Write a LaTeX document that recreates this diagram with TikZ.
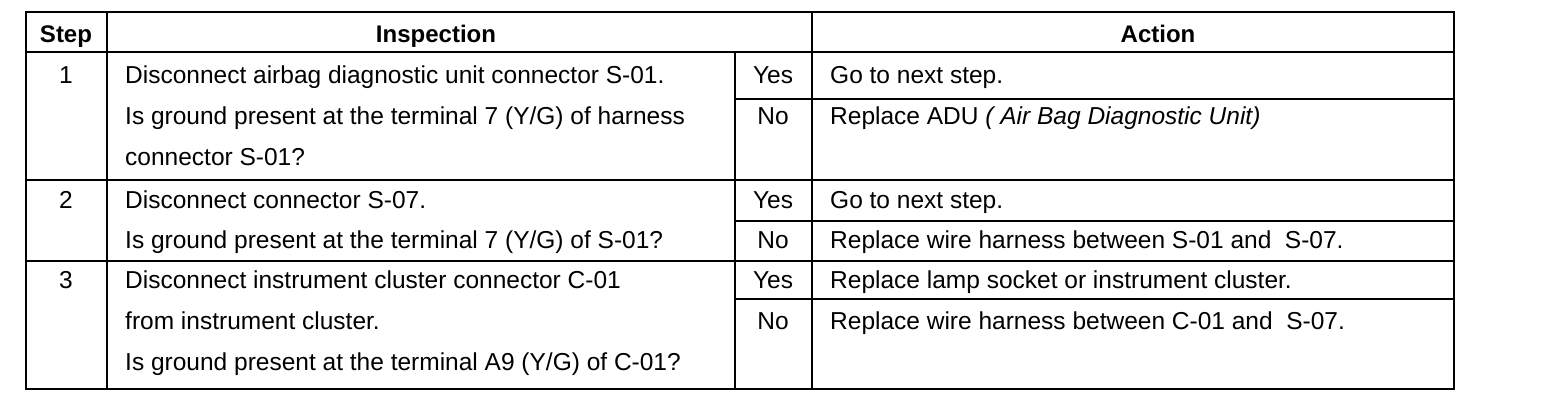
\documentclass[tikz,border=0pt]{standalone}
\usepackage{fontspec}
\setmainfont{Liberation Sans}
\begin{document}
\begin{tikzpicture}[x=1pt,y=-1pt,
  txt/.style={inner sep=0pt,font=\fontsize{24.5}{28}\selectfont},
  lt/.style={txt,anchor=base west},
  ct/.style={txt,anchor=base},
  hd/.style={txt,anchor=base,font=\fontsize{24}{28}\selectfont\bfseries},
  grid/.style={line width=1.5pt,black},
  frame/.style={line width=2pt,black}]
\useasboundingbox (0,0) rectangle (1568,406);
\fill[white] (0,0) rectangle (1568,406);
% grid lines
\coordinate (TL) at (26,12);
\coordinate (BR) at (1454,389);
\draw[grid] (107,12) -- (107,389);
\draw[grid] (735,52) -- (735,389);
\draw[grid] (812,12) -- (812,389);
\draw[grid] (26,52) -- (1454,52);
\draw[grid] (26,180) -- (1454,180);
\draw[grid] (26,261) -- (1454,261);
\draw[grid] (735,99) -- (1454,99);
\draw[grid] (735,221) -- (1454,221);
\draw[grid] (735,299) -- (1454,299);
\draw[frame] (TL) rectangle (BR);
% header
\node[hd] (hstep) at (66,43) {Step};
\node[hd] (hinsp) at (436,43) {Inspection};
\node[hd] (hact) at (1158,43) {Action};
% step 1
\node[ct] (s1) at (66,83.5) {1};
\node[lt] (i1a) at (125,83.5) {Disconnect airbag diagnostic unit connector S-01.};
\node[lt] (i1b) at (125,124.5) {Is ground present at the terminal 7 (Y/G) of harness};
\node[lt] (i1c) at (125,165.5) {connector S-01?};
\node[ct] (y1) at (773,83.5) {Yes};
\node[ct] (n1) at (773,124.5) {No};
\node[lt] (a1y) at (830,83.5) {Go to next step.};
\node[lt] (a1n) at (830,124.5) {Replace ADU \textit{( Air Bag Diagnostic Unit)}};
% step 2
\node[ct] (s2) at (66,208.5) {2};
\node[lt] (i2a) at (125,208.5) {Disconnect connector S-07.};
\node[lt] (i2b) at (125,248.5) {Is ground present at the terminal 7 (Y/G) of S-01?};
\node[ct] (y2) at (773,208.5) {Yes};
\node[ct] (n2) at (773,248.5) {No};
\node[lt] (a2y) at (830,208.5) {Go to next step.};
\node[lt] (a2n) at (830,248.5) {Replace wire harness between S-01 and\ \ S-07.};
% step 3
\node[ct] (s3) at (66,288.5) {3};
\node[lt] (i3a) at (125,288.5) {Disconnect instrument cluster connector C-01};
\node[lt] (i3b) at (125,329.5) {from instrument cluster.};
\node[lt] (i3c) at (125,370.5) {Is ground present at the terminal A9 (Y/G) of C-01?};
\node[ct] (y3) at (773,288.5) {Yes};
\node[ct] (n3) at (773,329.5) {No};
\node[lt] (a3y) at (830,288.5) {Replace lamp socket or instrument cluster.};
\node[lt] (a3n) at (830,329.5) {Replace wire harness between C-01 and\ \ S-07.};
\end{tikzpicture}
\end{document}
